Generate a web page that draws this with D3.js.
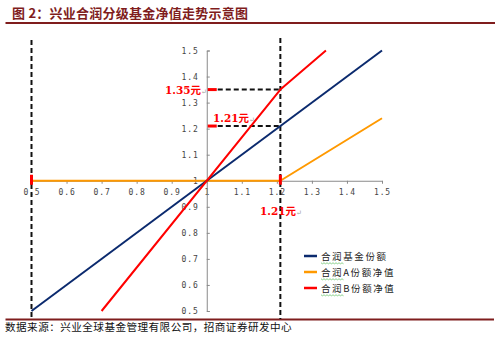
<!DOCTYPE html>
<html>
<head>
<meta charset="utf-8">
<script src="https://cdn.jsdelivr.net/npm/d3@7"></script>
<style>
  html, body { margin: 0; padding: 0; background: #fff; }
  svg { display: block; }
</style>
</head>
<body>
<svg id="chart" width="500" height="339"></svg>
<script>
// Net asset value of the parent fund (x) and the resulting share values (y)
const fundX = [0.5, 1.5];
const fundY = [0.5, 1.5];
const aX = [0.5, 1.21, 1.5];
const aY = [1.0, 1.0, 1.24];
const bX = [0.7, 1.21, 1.34];
const bY = [0.5, 1.35, 1.5];

const xTicks = [0.5, 0.6, 0.7, 0.8, 0.9, 1.0, 1.1, 1.2, 1.3, 1.4, 1.5];
const yTicks = [0.5, 0.6, 0.7, 0.8, 0.9, 1.0, 1.1, 1.2, 1.3, 1.4, 1.5];

const seriesNames = ["合润基金份额", "合润A份额净值", "合润B份额净值"];
const seriesColors = ["#0b2a6e", "#ff9900", "#ff0000"];

// Reference points: lower bound NAV, conversion NAV, and B value at conversion
const lowerNav = 0.5;
const convNav = 1.21;
const convB = 1.35;

const svg = d3.select("#chart");
const cjk = "'Noto Sans CJK SC', 'Noto Sans', sans-serif";
const mono = "'DejaVu Sans Mono', 'Liberation Mono', monospace";

const x = d3.scaleLinear().domain([0.5, 1.5]).range([31.5, 382]);
const y = d3.scaleLinear().domain([0.5, 1.5]).range([311, 50.5]);

// Title and rules
const darkRed = "#7f1d1d";
svg.append("text").attr("x", 12).attr("y", 18)
  .attr("font-family", cjk).attr("font-size", 13).attr("font-weight", 700)
  .attr("letter-spacing", 0.25)
  .attr("fill", darkRed).text("图 2：兴业合润分级基金净值走势示意图");
svg.append("line").attr("x1", 5.5).attr("x2", 495).attr("y1", 23).attr("y2", 23)
  .attr("stroke", darkRed).attr("stroke-width", 2);
svg.append("line").attr("x1", 5.5).attr("x2", 494).attr("y1", 319.5).attr("y2", 319.5)
  .attr("stroke", darkRed).attr("stroke-width", 2);
svg.append("text").attr("x", 5).attr("y", 331)
  .attr("font-family", cjk).attr("font-size", 10.6).attr("letter-spacing", 0.45)
  .attr("fill", "#111")
  .text("数据来源：兴业全球基金管理有限公司，招商证券研发中心");

// Axes crossing at (1, 1)
const axisColor = "#8a8a8a";
const xAxis = d3.axisBottom(x).tickValues(xTicks).tickSize(3).tickSizeOuter(0)
  .tickFormat(d => d === 1 ? "1" : d3.format(".1f")(d));
const gx = svg.append("g").attr("transform", `translate(0,${y(1)})`).call(xAxis);
gx.select(".domain").attr("stroke", axisColor);
gx.selectAll(".tick line").attr("stroke", axisColor);
gx.selectAll(".tick text").attr("font-family", mono).attr("font-size", 8)
  .attr("letter-spacing", 0.9).attr("fill", "#444").attr("dy", "1.05em");

const yAxis = d3.axisRight(y).tickValues(yTicks).tickSize(3).tickSizeOuter(3)
  .tickFormat(d => d === 1 ? "1" : d3.format(".1f")(d));
const gy = svg.append("g").attr("transform", `translate(${x(1)},0)`).call(yAxis);
gy.select(".domain").attr("stroke", axisColor);
gy.selectAll(".tick line").attr("stroke", axisColor);
gy.selectAll(".tick text").attr("font-family", mono).attr("font-size", 8)
  .attr("letter-spacing", 0.9).attr("fill", "#444")
  .attr("text-anchor", "end").attr("x", -8);

// Dashed guides
const dash = "5,3";
svg.append("line").attr("x1", x(lowerNav)).attr("x2", x(lowerNav))
  .attr("y1", 40).attr("y2", 319).attr("stroke", "#111").attr("stroke-width", 2)
  .attr("stroke-dasharray", dash);
svg.append("line").attr("x1", x(convNav)).attr("x2", x(convNav))
  .attr("y1", 38).attr("y2", 319).attr("stroke", "#111").attr("stroke-width", 2)
  .attr("stroke-dasharray", dash);
[convB, convNav].forEach(v => {
  svg.append("line").attr("x1", x(1) + 11).attr("x2", x(convNav))
    .attr("y1", y(v)).attr("y2", y(v)).attr("stroke", "#111").attr("stroke-width", 2)
    .attr("stroke-dasharray", dash);
  svg.append("line").attr("x1", x(1) + 1).attr("x2", x(1) + 10)
    .attr("y1", y(v)).attr("y2", y(v)).attr("stroke", "#ff0000").attr("stroke-width", 3);
});

// Series lines
const line = d3.line().x(d => x(d[0])).y(d => y(d[1]));
const series = [
  d3.zip(fundX, fundY),
  d3.zip(aX, aY),
  d3.zip(bX, bY)
];
[1, 0, 2].forEach(i => {
  svg.append("path").datum(series[i]).attr("d", line)
    .attr("fill", "none").attr("stroke", seriesColors[i]).attr("stroke-width", 2)
    .attr("stroke-linejoin", "round");
});

// Red markers where the dashed verticals meet the A share line
[lowerNav, convNav].forEach(v => {
  svg.append("line").attr("x1", x(v)).attr("x2", x(v))
    .attr("y1", y(1) - 6).attr("y2", y(1) + 4)
    .attr("stroke", "#ff0000").attr("stroke-width", 3);
});

// Value labels
function valueLabel(px, py, v) {
  const t = svg.append("text").attr("x", px).attr("y", py)
    .attr("font-family", "'DejaVu Serif', 'Liberation Serif', serif")
    .attr("font-size", 10.5).attr("font-weight", 700).attr("fill", "#ff0000");
  t.append("tspan").text(d3.format(".2f")(v));
  t.append("tspan").attr("font-family", cjk).text("元");
  t.append("tspan").attr("font-size", 7).attr("font-weight", 400)
    .attr("fill", "#999").text("↵");
}
valueLabel(165, 94, convB);
valueLabel(213, 122, convNav);
valueLabel(260, 215, convNav);

// Legend
const legend = svg.append("g");
seriesNames.forEach((name, i) => {
  const ly = 256 + i * 16;
  legend.append("line").attr("x1", 304).attr("x2", 317).attr("y1", ly).attr("y2", ly)
    .attr("stroke", seriesColors[i]).attr("stroke-width", 2.5);
  legend.append("text").attr("x", 321).attr("y", ly + 3.5)
    .attr("font-family", cjk).attr("font-size", 9.5).attr("letter-spacing", 1.6)
    .attr("fill", "#222").text(name);
  // spell-check style squiggle under the first two characters
  const pts = d3.range(0, 23, 1.5).map((k, j) => [321 + k, ly + 7 + (j % 2 ? 0.8 : -0.2)]);
  legend.append("path").attr("d", d3.line()(pts)).attr("fill", "none")
    .attr("stroke", "#5fbf5f").attr("stroke-width", 0.7);
});
</script>
</body>
</html>
